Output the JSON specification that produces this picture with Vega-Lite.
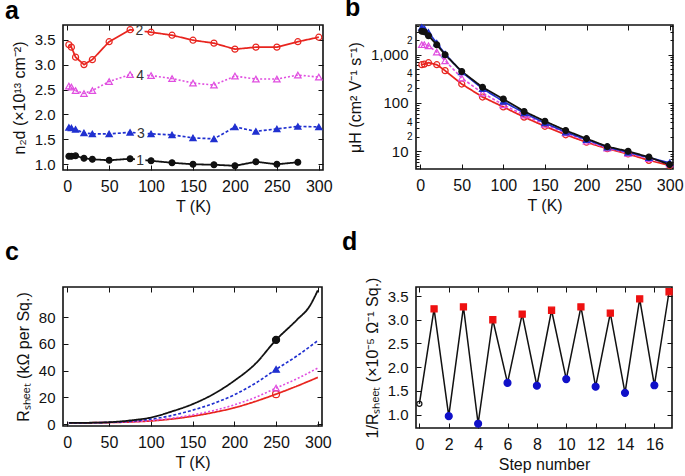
{
  "$schema": "https://vega.github.io/schema/vega-lite/v6.json",
  "background": "white",
  "padding": {"left": 4, "top": -6, "right": 0, "bottom": 0},
  "bounds": "flush",
  "columns": 2,
  "spacing": {"row": 117, "column": 93},
  "resolve": {"scale": {"x": "independent", "y": "independent", "color": "independent", "fill": "independent", "stroke": "independent", "shape": "independent", "size": "independent", "strokeDash": "independent", "strokeWidth": "independent"}},
  "config": {
    "font": "Liberation Sans",
    "view": {"stroke": "#111", "strokeWidth": 1.6},
    "axis": {"grid": false, "domain": false, "tickColor": "#111", "tickSize": -5, "tickWidth": 1, "labelFont": "Liberation Sans", "titleFont": "Liberation Sans", "labelFontSize": 16, "titleFontSize": 16, "titleFontWeight": "normal", "labelColor": "#111", "titleColor": "#111", "labelPadding": 13, "labelOverlap": false, "labelFlush": false},
    "axisX": {"titlePadding": 4},
    "axisY": {"titlePadding": 7, "labelFontSize": 15},
    "title": {"fontSize": 25, "fontWeight": "bold", "anchor": "start", "frame": "group", "baseline": "alphabetic", "color": "#000", "font": "Liberation Sans"}
  },
  "concat": [
    {
      "width": 260, "height": 145,
      "title": {"text": "a", "dx": -58, "offset": 0},
      "data": {"values": [
        {"T": 2, "s": "2", "v": 3.40}, {"T": 5, "s": "2", "v": 3.35}, {"T": 10, "s": "2", "v": 3.15}, {"T": 20, "s": "2", "v": 3.00}, {"T": 30, "s": "2", "v": 3.10}, {"T": 50, "s": "2", "v": 3.46}, {"T": 75, "s": "2", "v": 3.70}, {"T": 100, "s": "2", "v": 3.65}, {"T": 125, "s": "2", "v": 3.59}, {"T": 150, "s": "2", "v": 3.49}, {"T": 175, "s": "2", "v": 3.43}, {"T": 200, "s": "2", "v": 3.31}, {"T": 225, "s": "2", "v": 3.35}, {"T": 250, "s": "2", "v": 3.35}, {"T": 275, "s": "2", "v": 3.46}, {"T": 300, "s": "2", "v": 3.55},
        {"T": 2, "s": "4", "v": 2.57}, {"T": 5, "s": "4", "v": 2.55}, {"T": 10, "s": "4", "v": 2.48}, {"T": 20, "s": "4", "v": 2.42}, {"T": 30, "s": "4", "v": 2.48}, {"T": 50, "s": "4", "v": 2.66}, {"T": 75, "s": "4", "v": 2.80}, {"T": 100, "s": "4", "v": 2.78}, {"T": 125, "s": "4", "v": 2.72}, {"T": 150, "s": "4", "v": 2.63}, {"T": 175, "s": "4", "v": 2.59}, {"T": 200, "s": "4", "v": 2.77}, {"T": 225, "s": "4", "v": 2.71}, {"T": 250, "s": "4", "v": 2.71}, {"T": 275, "s": "4", "v": 2.79}, {"T": 300, "s": "4", "v": 2.75},
        {"T": 2, "s": "3", "v": 1.74}, {"T": 5, "s": "3", "v": 1.73}, {"T": 10, "s": "3", "v": 1.70}, {"T": 20, "s": "3", "v": 1.63}, {"T": 30, "s": "3", "v": 1.61}, {"T": 50, "s": "3", "v": 1.61}, {"T": 75, "s": "3", "v": 1.64}, {"T": 100, "s": "3", "v": 1.61}, {"T": 125, "s": "3", "v": 1.59}, {"T": 150, "s": "3", "v": 1.53}, {"T": 175, "s": "3", "v": 1.51}, {"T": 200, "s": "3", "v": 1.75}, {"T": 225, "s": "3", "v": 1.66}, {"T": 250, "s": "3", "v": 1.71}, {"T": 275, "s": "3", "v": 1.76}, {"T": 300, "s": "3", "v": 1.75},
        {"T": 2, "s": "1", "v": 1.16}, {"T": 5, "s": "1", "v": 1.16}, {"T": 10, "s": "1", "v": 1.17}, {"T": 20, "s": "1", "v": 1.12}, {"T": 30, "s": "1", "v": 1.10}, {"T": 50, "s": "1", "v": 1.08}, {"T": 75, "s": "1", "v": 1.11}, {"T": 100, "s": "1", "v": 1.07}, {"T": 125, "s": "1", "v": 1.03}, {"T": 150, "s": "1", "v": 1.00}, {"T": 175, "s": "1", "v": 0.99}, {"T": 200, "s": "1", "v": 0.97}, {"T": 225, "s": "1", "v": 1.05}, {"T": 250, "s": "1", "v": 1.00}, {"T": 275, "s": "1", "v": 1.04}
      ]},
      "resolve": {"axis": {"x": "independent", "y": "independent"}},
      "layer": [
        {
          "mark": {"type": "line"},
          "encoding": {
            "x": {"field": "T", "type": "quantitative", "scale": {"domain": [-5, 305], "nice": false, "zero": false}, "axis": {"values": [0, 50, 100, 150, 200, 250, 300], "tickCount": 40, "format": "d", "labelOverlap": false, "title": "T (K)"}},
            "y": {"field": "v", "type": "quantitative", "scale": {"domain": [0.885, 3.795], "nice": false, "zero": false}, "axis": {"values": [1, 1.5, 2, 2.5, 3, 3.5], "tickCount": 40, "labelOverlap": false, "format": ".1f", "title": "n₂d (×10¹³ cm⁻²)"}},
            "detail": {"field": "s"},
            "color": {"field": "s", "type": "nominal", "scale": {"domain": ["1", "2", "3", "4"], "range": ["#111111", "#e8251f", "#2030d0", "#e04ee0"]}, "legend": null},
            "strokeDash": {"field": "s", "type": "nominal", "scale": {"domain": ["1", "2", "3", "4"], "range": [[1, 0], [1, 0], [3, 2], [2, 2]]}, "legend": null},
            "strokeWidth": {"field": "s", "type": "ordinal", "scale": {"domain": ["1", "2", "3", "4"], "range": [1.8, 1.6, 1, 1]}, "legend": null}
          }
        },
        {
          "mark": {"type": "point", "filled": true, "strokeWidth": 1.2, "opacity": 1},
          "encoding": {
            "x": {"field": "T", "type": "quantitative", "axis": {"orient": "top", "labels": false, "title": null, "values": [0, 50, 100, 150, 200, 250, 300], "tickCount": 40}},
            "y": {"field": "v", "type": "quantitative", "axis": {"orient": "right", "labels": false, "title": null, "values": [1, 1.5, 2, 2.5, 3, 3.5], "tickCount": 40}},
            "shape": {"field": "s", "type": "nominal", "scale": {"domain": ["1", "2", "3", "4"], "range": ["circle", "circle", "triangle-up", "triangle-up"]}, "legend": null},
            "fill": {"field": "s", "type": "nominal", "scale": {"domain": ["1", "2", "3", "4"], "range": ["#111111", "transparent", "#2030d0", "transparent"]}, "legend": null},
            "stroke": {"field": "s", "type": "nominal", "scale": {"domain": ["1", "2", "3", "4"], "range": ["#111111", "#e8251f", "#2030d0", "#e04ee0"]}, "legend": null},
            "size": {"field": "s", "type": "ordinal", "scale": {"domain": ["1", "2", "3", "4"], "range": [34, 42, 20, 20]}, "legend": null}
          }
        },
        {
          "data": {"values": [{"T": 86, "v": 3.67, "lab": "2"}, {"T": 87, "v": 2.77, "lab": "4"}, {"T": 88, "v": 1.61, "lab": "3"}, {"T": 87, "v": 1.07, "lab": "1"}]},
          "mark": {"type": "square", "color": "white", "opacity": 1, "size": 110},
          "encoding": {"x": {"field": "T", "type": "quantitative", "axis": null}, "y": {"field": "v", "type": "quantitative", "axis": null}}
        },
        {
          "data": {"values": [{"T": 86, "v": 3.67, "lab": "2"}, {"T": 87, "v": 2.77, "lab": "4"}, {"T": 88, "v": 1.61, "lab": "3"}, {"T": 87, "v": 1.07, "lab": "1"}]},
          "mark": {"type": "text", "fontSize": 14, "color": "#333", "baseline": "middle", "align": "center"},
          "encoding": {"x": {"field": "T", "type": "quantitative", "axis": null}, "y": {"field": "v", "type": "quantitative", "axis": null}, "text": {"field": "lab"}}
        }
      ]
    },
    {
      "width": 257, "height": 144,
      "title": {"text": "b", "dx": -71, "offset": 0},
      "data": {"values": [
        {"T": 2, "s": "2", "v": 621}, {"T": 5, "s": "2", "v": 640}, {"T": 10, "s": "2", "v": 683}, {"T": 20, "s": "2", "v": 621}, {"T": 30, "s": "2", "v": 467}, {"T": 50, "s": "2", "v": 247}, {"T": 75, "s": "2", "v": 133}, {"T": 100, "s": "2", "v": 83}, {"T": 125, "s": "2", "v": 51}, {"T": 150, "s": "2", "v": 33}, {"T": 175, "s": "2", "v": 22}, {"T": 200, "s": "2", "v": 15.4}, {"T": 225, "s": "2", "v": 11.3}, {"T": 250, "s": "2", "v": 8.8}, {"T": 275, "s": "2", "v": 6.5}, {"T": 300, "s": "2", "v": 5.1},
        {"T": 2, "s": "4", "v": 1610}, {"T": 5, "s": "4", "v": 1610}, {"T": 10, "s": "4", "v": 1530}, {"T": 20, "s": "4", "v": 1135}, {"T": 30, "s": "4", "v": 750}, {"T": 50, "s": "4", "v": 329}, {"T": 75, "s": "4", "v": 161}, {"T": 100, "s": "4", "v": 92}, {"T": 125, "s": "4", "v": 56}, {"T": 150, "s": "4", "v": 36}, {"T": 175, "s": "4", "v": 24}, {"T": 200, "s": "4", "v": 16.2}, {"T": 225, "s": "4", "v": 11.7}, {"T": 250, "s": "4", "v": 9.1}, {"T": 275, "s": "4", "v": 7.1}, {"T": 300, "s": "4", "v": 5.5},
        {"T": 2, "s": "3", "v": 3680}, {"T": 5, "s": "3", "v": 3450}, {"T": 10, "s": "3", "v": 2900}, {"T": 20, "s": "3", "v": 1740}, {"T": 30, "s": "3", "v": 1030}, {"T": 50, "s": "3", "v": 438}, {"T": 75, "s": "3", "v": 198}, {"T": 100, "s": "3", "v": 108}, {"T": 125, "s": "3", "v": 62}, {"T": 150, "s": "3", "v": 38.5}, {"T": 175, "s": "3", "v": 25}, {"T": 200, "s": "3", "v": 17.3}, {"T": 225, "s": "3", "v": 12.2}, {"T": 250, "s": "3", "v": 9.5}, {"T": 275, "s": "3", "v": 7.4}, {"T": 300, "s": "3", "v": 5.8},
        {"T": 2, "s": "1", "v": 3050}, {"T": 5, "s": "1", "v": 3000}, {"T": 10, "s": "1", "v": 2470}, {"T": 20, "s": "1", "v": 1610}, {"T": 30, "s": "1", "v": 1000}, {"T": 50, "s": "1", "v": 450}, {"T": 75, "s": "1", "v": 211}, {"T": 100, "s": "1", "v": 121}, {"T": 125, "s": "1", "v": 67}, {"T": 150, "s": "1", "v": 42}, {"T": 175, "s": "1", "v": 27}, {"T": 200, "s": "1", "v": 18.3}, {"T": 225, "s": "1", "v": 12.5}, {"T": 250, "s": "1", "v": 10}, {"T": 275, "s": "1", "v": 7.6}, {"T": 300, "s": "1", "v": 5.3}
      ]},
      "resolve": {"axis": {"x": "independent", "y": "independent"}},
      "layer": [
        {
          "mark": {"type": "line"},
          "encoding": {
            "x": {"field": "T", "type": "quantitative", "scale": {"domain": [-5, 304], "nice": false, "zero": false}, "axis": {"values": [0, 50, 100, 150, 200, 250, 300], "tickCount": 40, "format": "d", "labelOverlap": false, "title": "T (K)"}},
            "y": {"field": "v", "type": "quantitative", "scale": {"type": "log", "domain": [4.3, 4120], "nice": false}, "axis": {
              "values": [5, 6, 7, 8, 9, 10, 20, 30, 40, 50, 60, 70, 80, 90, 100, 200, 300, 400, 500, 600, 700, 800, 900, 1000, 2000, 3000, 4000],
              "tickCount": 60,
              "labelOverlap": false,
              "labelExpr": "indexof([10,100,1000], datum.value) >= 0 ? format(datum.value, ',') : (indexof([20,40,200,400,2000], datum.value) >= 0 ? slice(toString(datum.value), 0, 1) : '')",
              "labelFontSize": {"condition": {"test": "indexof([10,100,1000], datum.value) >= 0", "value": 15}, "value": 10},
              "labelPadding": {"condition": {"test": "indexof([10,100,1000], datum.value) >= 0", "value": 13}, "value": 7},
              "tickSize": {"condition": {"test": "indexof([10,100,1000], datum.value) >= 0", "value": -5}, "value": -3},
              "title": "μH (cm² V⁻¹ s⁻¹)"}},
            "detail": {"field": "s"},
            "color": {"field": "s", "type": "nominal", "scale": {"domain": ["1", "2", "3", "4"], "range": ["#111111", "#e8251f", "#2030d0", "#e04ee0"]}, "legend": null},
            "strokeDash": {"field": "s", "type": "nominal", "scale": {"domain": ["1", "2", "3", "4"], "range": [[1, 0], [1, 0], [1, 0], [3, 2]]}, "legend": null},
            "strokeWidth": {"field": "s", "type": "ordinal", "scale": {"domain": ["1", "2", "3", "4"], "range": [1.8, 1.6, 1, 1]}, "legend": null}
          }
        },
        {
          "mark": {"type": "point", "filled": true, "strokeWidth": 1.2, "opacity": 1},
          "encoding": {
            "x": {"field": "T", "type": "quantitative", "axis": {"orient": "top", "labels": false, "title": null, "values": [0, 50, 100, 150, 200, 250, 300], "tickCount": 40}},
            "y": {"field": "v", "type": "quantitative", "axis": {"orient": "right", "labels": false, "title": null, "tickCount": 60, "values": [5, 6, 7, 8, 9, 10, 20, 30, 40, 50, 60, 70, 80, 90, 100, 200, 300, 400, 500, 600, 700, 800, 900, 1000, 2000, 3000, 4000],
              "tickSize": {"condition": {"test": "indexof([10,100,1000], datum.value) >= 0", "value": -5}, "value": -3}}},
            "shape": {"field": "s", "type": "nominal", "scale": {"domain": ["1", "2", "3", "4"], "range": ["circle", "circle", "triangle-up", "triangle-up"]}, "legend": null},
            "fill": {"field": "s", "type": "nominal", "scale": {"domain": ["1", "2", "3", "4"], "range": ["#111111", "transparent", "#2030d0", "transparent"]}, "legend": null},
            "stroke": {"field": "s", "type": "nominal", "scale": {"domain": ["1", "2", "3", "4"], "range": ["#111111", "#e8251f", "#2030d0", "#e04ee0"]}, "legend": null},
            "size": {"field": "s", "type": "ordinal", "scale": {"domain": ["1", "2", "3", "4"], "range": [34, 42, 20, 20]}, "legend": null}
          }
        }
      ]
    },
    {
      "width": 259, "height": 139,
      "title": {"text": "c", "dx": -58, "offset": 22},
      "data": {"values": [
        {"T": 2, "s": "2", "v": 1.0}, {"T": 25, "s": "2", "v": 1.1}, {"T": 50, "s": "2", "v": 1.3}, {"T": 75, "s": "2", "v": 1.7}, {"T": 100, "s": "2", "v": 2.5}, {"T": 125, "s": "2", "v": 3.9}, {"T": 150, "s": "2", "v": 6.0}, {"T": 175, "s": "2", "v": 8.8}, {"T": 200, "s": "2", "v": 12.3}, {"T": 225, "s": "2", "v": 17}, {"T": 250, "s": "2", "v": 22.5}, {"T": 275, "s": "2", "v": 28.5}, {"T": 300, "s": "2", "v": 35},
        {"T": 2, "s": "4", "v": 1.0}, {"T": 25, "s": "4", "v": 1.1}, {"T": 50, "s": "4", "v": 1.3}, {"T": 75, "s": "4", "v": 1.8}, {"T": 100, "s": "4", "v": 2.8}, {"T": 125, "s": "4", "v": 4.5}, {"T": 150, "s": "4", "v": 7.0}, {"T": 175, "s": "4", "v": 10.2}, {"T": 200, "s": "4", "v": 14.5}, {"T": 225, "s": "4", "v": 20}, {"T": 250, "s": "4", "v": 27}, {"T": 275, "s": "4", "v": 34}, {"T": 300, "s": "4", "v": 42},
        {"T": 2, "s": "3", "v": 1.0}, {"T": 25, "s": "3", "v": 1.1}, {"T": 50, "s": "3", "v": 1.4}, {"T": 75, "s": "3", "v": 2.2}, {"T": 100, "s": "3", "v": 3.8}, {"T": 125, "s": "3", "v": 6.5}, {"T": 150, "s": "3", "v": 10.5}, {"T": 175, "s": "3", "v": 15.5}, {"T": 200, "s": "3", "v": 22}, {"T": 225, "s": "3", "v": 30.5}, {"T": 250, "s": "3", "v": 41}, {"T": 275, "s": "3", "v": 51}, {"T": 300, "s": "3", "v": 62.5},
        {"T": 2, "s": "1", "v": 1.0}, {"T": 25, "s": "1", "v": 1.1}, {"T": 50, "s": "1", "v": 1.5}, {"T": 75, "s": "1", "v": 2.8}, {"T": 100, "s": "1", "v": 5.0}, {"T": 125, "s": "1", "v": 9.5}, {"T": 150, "s": "1", "v": 15}, {"T": 175, "s": "1", "v": 22.5}, {"T": 200, "s": "1", "v": 32.5}, {"T": 225, "s": "1", "v": 45}, {"T": 250, "s": "1", "v": 63}, {"T": 275, "s": "1", "v": 78}, {"T": 290, "s": "1", "v": 88}, {"T": 300, "s": "1", "v": 100}
      ]},
      "resolve": {"axis": {"x": "independent", "y": "independent"}},
      "layer": [
        {
          "mark": {"type": "line", "interpolate": "monotone"},
          "encoding": {
            "x": {"field": "T", "type": "quantitative", "scale": {"domain": [-5, 305], "nice": false, "zero": false}, "axis": {"values": [0, 50, 100, 150, 200, 250, 300], "tickCount": 40, "format": "d", "labelOverlap": false, "title": "T (K)"}},
            "y": {"field": "v", "type": "quantitative", "scale": {"domain": [-1.3, 102.5], "nice": false, "zero": false}, "axis": {"values": [0, 20, 40, 60, 80], "tickCount": 40, "format": "d", "labelOverlap": false, "title": "Rₛₕₑₑₜ (kΩ per Sq.)"}},
            "detail": {"field": "s"},
            "color": {"field": "s", "type": "nominal", "scale": {"domain": ["1", "2", "3", "4"], "range": ["#111111", "#e8251f", "#2030d0", "#e04ee0"]}, "legend": null},
            "strokeDash": {"field": "s", "type": "nominal", "scale": {"domain": ["1", "2", "3", "4"], "range": [[1, 0], [1, 0], [3, 2], [2, 2]]}, "legend": null},
            "strokeWidth": {"field": "s", "type": "ordinal", "scale": {"domain": ["1", "2", "3", "4"], "range": [1.8, 1.6, 1, 1]}, "legend": null}
          }
        },
        {
          "transform": [{"filter": "datum.T == 250"}],
          "mark": {"type": "point", "filled": true, "strokeWidth": 1.2, "opacity": 1},
          "encoding": {
            "x": {"field": "T", "type": "quantitative", "axis": {"orient": "top", "labels": false, "title": null, "values": [0, 50, 100, 150, 200, 250, 300], "tickCount": 40}},
            "y": {"field": "v", "type": "quantitative", "axis": {"orient": "right", "labels": false, "title": null, "values": [0, 20, 40, 60, 80], "tickCount": 40}},
            "shape": {"field": "s", "type": "nominal", "scale": {"domain": ["1", "2", "3", "4"], "range": ["circle", "circle", "triangle-up", "triangle-up"]}, "legend": null},
            "fill": {"field": "s", "type": "nominal", "scale": {"domain": ["1", "2", "3", "4"], "range": ["#111111", "transparent", "#2030d0", "transparent"]}, "legend": null},
            "stroke": {"field": "s", "type": "nominal", "scale": {"domain": ["1", "2", "3", "4"], "range": ["#111111", "#e8251f", "#2030d0", "#e04ee0"]}, "legend": null},
            "size": {"field": "s", "type": "ordinal", "scale": {"domain": ["1", "2", "3", "4"], "range": [50, 42, 24, 24]}, "legend": null}
          }
        }
      ]
    },
    {
      "width": 256, "height": 141,
      "title": {"text": "d", "dx": -74, "offset": 22},
      "data": {"values": [
        {"step": 0, "v": 1.23, "phase": "initial"}, {"step": 1, "v": 3.23, "phase": "high"}, {"step": 2, "v": 0.97, "phase": "low"}, {"step": 3, "v": 3.27, "phase": "high"}, {"step": 4, "v": 0.81, "phase": "low"}, {"step": 5, "v": 3.00, "phase": "high"}, {"step": 6, "v": 1.67, "phase": "low"}, {"step": 7, "v": 3.12, "phase": "high"}, {"step": 8, "v": 1.61, "phase": "low"}, {"step": 9, "v": 3.20, "phase": "high"}, {"step": 10, "v": 1.75, "phase": "low"}, {"step": 11, "v": 3.27, "phase": "high"}, {"step": 12, "v": 1.59, "phase": "low"}, {"step": 13, "v": 3.14, "phase": "high"}, {"step": 14, "v": 1.46, "phase": "low"}, {"step": 15, "v": 3.44, "phase": "high"}, {"step": 16, "v": 1.62, "phase": "low"}, {"step": 17, "v": 3.59, "phase": "high"}
      ]},
      "resolve": {"axis": {"x": "independent", "y": "independent"}},
      "layer": [
        {
          "mark": {"type": "line", "color": "#111", "strokeWidth": 1.5},
          "encoding": {
            "x": {"field": "step", "type": "quantitative", "scale": {"domain": [-0.23, 17.2], "nice": false, "zero": false}, "axis": {"values": [0, 2, 4, 6, 8, 10, 12, 14, 16], "tickCount": 40, "format": "d", "labelOverlap": false, "title": "Step number"}},
            "y": {"field": "v", "type": "quantitative", "scale": {"domain": [0.72, 3.69], "nice": false, "zero": false}, "axis": {"values": [1, 1.5, 2, 2.5, 3, 3.5], "tickCount": 40, "labelOverlap": false, "format": ".1f", "title": "1/Rₛₕₑₑₜ (×10⁻⁵ Ω⁻¹ Sq.)"}}
          }
        },
        {
          "mark": {"type": "point", "filled": true, "strokeWidth": 1.2, "opacity": 1},
          "encoding": {
            "x": {"field": "step", "type": "quantitative", "axis": {"orient": "top", "labels": false, "title": null, "values": [0, 2, 4, 6, 8, 10, 12, 14, 16], "tickCount": 40}},
            "y": {"field": "v", "type": "quantitative", "axis": {"orient": "right", "labels": false, "title": null, "values": [1, 1.5, 2, 2.5, 3, 3.5], "tickCount": 40}},
            "shape": {"field": "phase", "type": "nominal", "scale": {"domain": ["initial", "high", "low"], "range": ["circle", "square", "circle"]}, "legend": null},
            "fill": {"field": "phase", "type": "nominal", "scale": {"domain": ["initial", "high", "low"], "range": ["transparent", "#ee1111", "#1010c8"]}, "legend": null},
            "stroke": {"field": "phase", "type": "nominal", "scale": {"domain": ["initial", "high", "low"], "range": ["#111111", "#ee1111", "#1010c8"]}, "legend": null},
            "size": {"field": "phase", "type": "ordinal", "scale": {"domain": ["initial", "high", "low"], "range": [26, 48, 38]}, "legend": null}
          }
        }
      ]
    }
  ]
}
